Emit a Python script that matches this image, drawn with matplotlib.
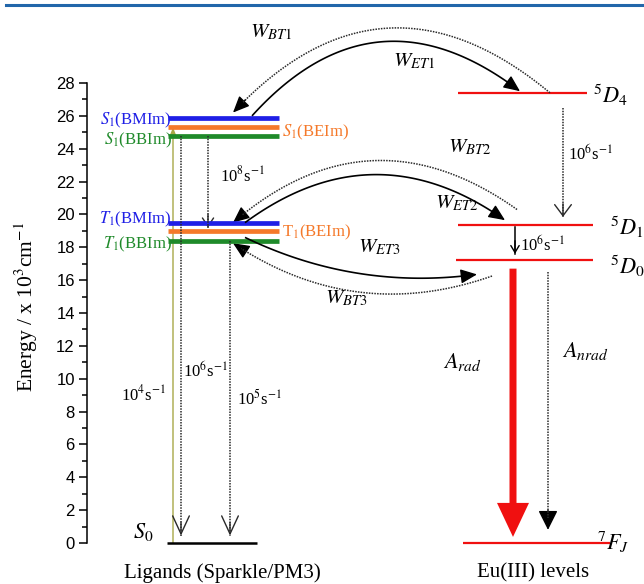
import matplotlib
matplotlib.use('Agg')
import matplotlib.pyplot as plt
import numpy as np
from matplotlib.lines import Line2D
from matplotlib.patches import FancyArrowPatch

plt.rcParams['font.family'] = ['Liberation Serif', 'DejaVu Serif']
plt.rcParams['mathtext.fontset'] = 'stix'

# --- data (energies in 10^3 cm^-1) ---
ligands = ['BMIm', 'BEIm', 'BBIm']
ligand_colors = ['#1f1fe6', '#f5792a', '#1f8a2a']
s1_levels = [25.9, 25.3, 24.8]
t1_levels = [19.5, 19.0, 18.4]
s0_level = 0.0

eu_names = ['${}^5D_4$', '${}^5D_1$', '${}^5D_0$', '${}^7F_J$']
eu_levels = [27.4, 19.35, 17.2, 0.0]

rate_labels = ['10$^4$s$^{-1}$', '10$^6$s$^{-1}$', '10$^8$s$^{-1}$',
               '10$^5$s$^{-1}$', '10$^6$s$^{-1}$', '10$^6$s$^{-1}$']

# layout: 1 x-unit = 1 pixel, y in energy units
PX = 460 / 28.0
ZERO = 543
DOT = (0, (1, 0.8))
DOT_COLOR = '#2a2a2a'

fig = plt.figure(figsize=(6.44, 5.84), dpi=100)
ax = fig.add_axes([0, 0, 1, 1])
ax.set_xlim(0, 644)
ax.set_ylim(-(584 - ZERO) / PX, ZERO / PX)
ax.patch.set_alpha(0)

for side in ['top', 'right', 'bottom']:
    ax.spines[side].set_visible(False)
ax.spines['left'].set_position(('data', 87))
ax.spines['left'].set_bounds(0, 28)
ax.spines['left'].set_linewidth(1.1)
ax.set_xticks([])
ax.set_yticks(range(0, 29, 2))
ax.set_yticks(range(0, 29), minor=True)
ax.tick_params(axis='y', which='major', direction='out', length=5.8, width=1.1, pad=3, labelsize=12)
ax.tick_params(axis='y', which='minor', direction='out', length=3.6, width=1.1)
for lab in ax.get_yticklabels():
    lab.set_fontfamily('Liberation Sans')
ax.text(26, (ZERO - 307) / PX, 'Energy / x 10$^3$cm$^{-1}$', rotation=90,
        ha='center', va='center', fontsize=15.5)

# header rule
fig.add_artist(Line2D([0.01, 1.0], [1 - 5 / 584, 1 - 5 / 584], transform=fig.transFigure,
                      color='#2266aa', lw=2.2))

# --- levels ---
for i in [2, 1, 0]:
    ax.hlines(s1_levels[i], 168, 279, color=ligand_colors[i], lw=3.4)
    ax.hlines(t1_levels[i], 168, 279, color=ligand_colors[i], lw=3.4)
ax.hlines(s0_level, 167, 257, color='black', lw=1.8)

eu_x0 = [458, 458, 456, 463]
eu_x1 = [587, 593, 593, 610]
ax.hlines(eu_levels, eu_x0, eu_x1, color='#f01010', lw=1.6)


def drop(x, y_from, y_to, hl, hw, ls=DOT, lw=1.1, color=DOT_COLOR):
    ax.plot([x, x], [y_from, y_to], color=color, lw=lw, ls=ls)
    ax.add_patch(FancyArrowPatch((x, y_to + 0.8), (x, y_to),
                                 arrowstyle=f'->,head_length={hl},head_width={hw}',
                                 mutation_scale=10, lw=1.0, color=color,
                                 shrinkA=0, shrinkB=0))


def arc(p0, p1, rad, dotted):
    # quadratic curve, same geometry as arc3 (x in px, y converted to px)
    x0, y0 = p0[0], p0[1] * PX
    x1, y1 = p1[0], p1[1] * PX
    cx = (x0 + x1) / 2 + rad * (y1 - y0)
    cy = (y0 + y1) / 2 - rad * (x1 - x0)
    t = np.linspace(0, 1, 120)
    bx = (1 - t) ** 2 * x0 + 2 * (1 - t) * t * cx + t ** 2 * x1
    by = ((1 - t) ** 2 * y0 + 2 * (1 - t) * t * cy + t ** 2 * y1) / PX
    color = DOT_COLOR if dotted else 'black'
    ax.plot(bx[:-4], by[:-4], color=color, lw=1.1 if dotted else 1.2,
            ls=DOT if dotted else '-', solid_capstyle='butt')
    ax.add_patch(FancyArrowPatch((bx[-6], by[-6]), (bx[-1], by[-1]),
                                 arrowstyle='-|>,head_length=0.5,head_width=0.22',
                                 mutation_scale=20, lw=1.0, color='black',
                                 shrinkA=0, shrinkB=0))


# absorption
ax.add_patch(FancyArrowPatch((173, s0_level), (173, s1_levels[1]),
                             arrowstyle='-|>,head_length=0.5,head_width=0.2',
                             mutation_scale=10, lw=1.0, color='#a8a848',
                             shrinkA=0, shrinkB=0))
# ligand decays
drop(181, s1_levels[2], s0_level + 0.45, 1.3, 0.6)
drop(208, s1_levels[2], t1_levels[0] - 0.3, 0.6, 0.4)
drop(230, t1_levels[2], s0_level + 0.45, 1.3, 0.6)

# energy transfer / back transfer
arc((252, s1_levels[0] + 0.1), (520, eu_levels[0] + 0.1), -0.46, False)
arc((550, eu_levels[0]), (233, s1_levels[0] + 0.3), 0.47, True)
arc((245, t1_levels[0]), (505, eu_levels[1] + 0.3), -0.36, False)
arc((517, eu_levels[1] + 0.95), (233, t1_levels[0]), 0.39, True)
arc((245, t1_levels[2] + 0.2), (477, eu_levels[2] - 0.85), 0.15, False)
arc((492, eu_levels[2] - 0.95), (233, t1_levels[2] - 0.15), -0.25, True)

# Eu internal
drop(563, eu_levels[0] - 0.9, eu_levels[1] + 0.5, 0.8, 0.6)
drop(515, eu_levels[1] - 0.1, eu_levels[2] + 0.4, 0.5, 0.3, ls='-', color='black')
ax.arrow(513, eu_levels[2] - 0.5, 0, -(eu_levels[2] - 0.5 - 0.37), width=7, head_width=32,
         head_length=2.07, length_includes_head=True, color='#f01010', lw=0)
ax.plot([548, 548], [eu_levels[2] - 0.7, 1.5], color=DOT_COLOR, lw=1.1, ls=DOT)
ax.add_patch(FancyArrowPatch((548, 2.0), (548, 0.8),
                             arrowstyle='-|>,head_length=1.2,head_width=0.6',
                             mutation_scale=10, lw=1.0, color='black', shrinkA=0, shrinkB=0))

# --- texts ---
lvl_fs = 12
ax.text(172, 25.7, '$S_1$(BMIm)', color=ligand_colors[0], ha='right', va='center', fontsize=lvl_fs)
ax.text(172, 24.5, '$S_1$(BBIm)', color=ligand_colors[2], ha='right', va='center', fontsize=lvl_fs)
ax.text(282, 25.0, '$S_1$(BEIm)', color=ligand_colors[1], ha='left', va='center', fontsize=lvl_fs)
ax.text(172, 19.7, '$T_1$(BMIm)', color=ligand_colors[0], ha='right', va='center', fontsize=lvl_fs)
ax.text(172, 18.2, '$T_1$(BBIm)', color=ligand_colors[2], ha='right', va='center', fontsize=lvl_fs)
ax.text(282, 18.9, 'T$_1$(BEIm)', color=ligand_colors[1], ha='left', va='center', fontsize=lvl_fs)
ax.text(133, 0.3, '$S_0$', fontsize=16, va='baseline')

eu_lab_pos = [(593, 26.8), (610, 18.75), (610, 16.4), (597, -0.43)]
for name, (x, y) in zip(eu_names, eu_lab_pos):
    ax.text(x, y, name, fontsize=16, va='baseline')

rate_pos = [(121, 8.7), (183, 10.1), (220, 22.0), (237, 8.4), (568, 23.3), (520, 17.8)]
for lab, (x, y) in zip(rate_labels, rate_pos):
    ax.text(x, y, lab, fontsize=12, va='baseline')

w_labels = ['$W_{BT1}$', '$W_{ET1}$', '$W_{BT2}$', '$W_{ET2}$', '$W_{ET3}$', '$W_{BT3}$']
w_pos = [(250, 30.8), (393, 29.0), (448, 23.8), (435, 20.4), (358, 17.7), (325, 14.6)]
for lab, (x, y) in zip(w_labels, w_pos):
    ax.text(x, y, lab, fontsize=15, va='baseline')

ax.text(443, 10.65, '$A_{rad}$', fontsize=16, va='baseline')
ax.text(562, 11.3, '$A_{nrad}$', fontsize=16, va='baseline')

ax.text(222, -1.83, 'Ligands (Sparkle/PM3)', ha='center', va='center', fontsize=15)
ax.text(533, -1.83, 'Eu(III) levels', ha='center', va='center', fontsize=15)

fig.savefig('out.png', dpi=100)
